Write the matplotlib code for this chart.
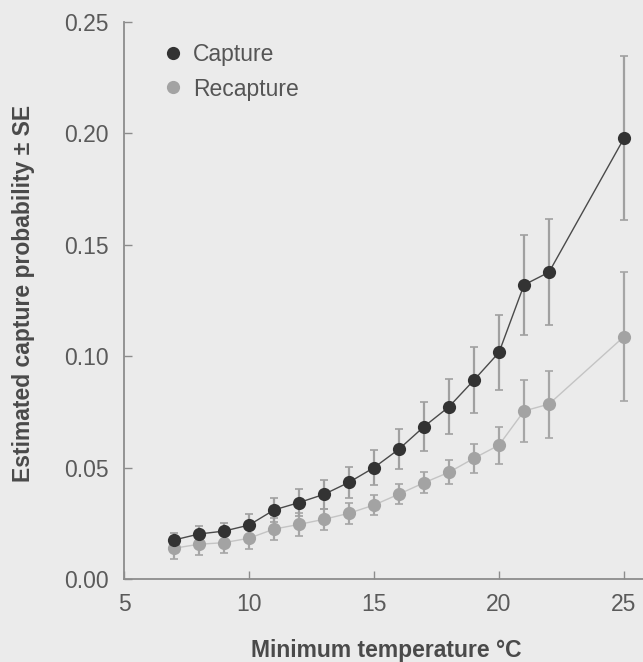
import matplotlib.pyplot as plt

temps = [7, 8, 9, 10, 11, 12, 13, 14, 15, 16, 17, 18, 19, 20, 21, 22, 25]

capture = [0.0175, 0.0202, 0.0215, 0.0242, 0.031, 0.0343, 0.038, 0.0434, 0.050,
           0.0583, 0.0684, 0.0773, 0.0893, 0.1017, 0.132, 0.1377, 0.1978]
capture_se = [0.003, 0.0038, 0.0038, 0.0048, 0.0052, 0.006, 0.0064, 0.007, 0.008,
              0.009, 0.011, 0.0124, 0.0148, 0.0169, 0.0225, 0.0237, 0.0368]

recapture = [0.0138, 0.0156, 0.0163, 0.0183, 0.0224, 0.0245, 0.0268, 0.0295, 0.0332,
             0.0381, 0.0432, 0.0479, 0.0542, 0.0601, 0.0754, 0.0785, 0.1088]
recapture_se = [0.005, 0.0048, 0.0048, 0.005, 0.005, 0.005, 0.0048, 0.0047, 0.0047,
                0.0046, 0.0048, 0.0053, 0.0066, 0.0083, 0.014, 0.015, 0.029]

bg = '#ebebeb'
plt.rcParams['font.family'] = ['Liberation Sans', 'DejaVu Sans']

fig = plt.figure(figsize=(6.43, 6.62), dpi=100, facecolor=bg)
ax = fig.add_axes([0.193, 0.1254, 0.807, 0.8414], facecolor=bg)

# error bars first, so the dots sit on top
ax.errorbar(temps, recapture, yerr=recapture_se, fmt='none', ecolor='#a6a6a6',
            elinewidth=1.6, capsize=3, capthick=1.2, zorder=1)
ax.errorbar(temps, capture, yerr=capture_se, fmt='none', ecolor='#a0a0a0',
            elinewidth=1.6, capsize=3, capthick=1.2, zorder=1)

ax.plot(temps, recapture, color='#c4c4c4', lw=1.0, zorder=2)
ax.plot(temps, capture, color='#4a4a4a', lw=1.0, zorder=2)
ax.plot(temps, recapture, 'o', color='#a3a3a3', ms=9.5, mec='none', zorder=3,
        label='Recapture')
ax.plot(temps, capture, 'o', color='#333333', ms=9.5, mec='none', zorder=4,
        label='Capture')

ax.set_xlim(5, 25.76)
ax.set_ylim(0, 0.25)
ax.set_xticks([5, 10, 15, 20, 25])
ax.set_yticks([0, 0.05, 0.10, 0.15, 0.20, 0.25])
ax.set_yticklabels(['0.00', '0.05', '0.10', '0.15', '0.20', '0.25'])

for s in ['top', 'right']:
    ax.spines[s].set_visible(False)
for s in ['left', 'bottom']:
    ax.spines[s].set_color('#8c8c8c')
    ax.spines[s].set_linewidth(1.3)

ax.tick_params(direction='in', length=6, width=1.0, color='#8c8c8c',
               labelsize=16.5, labelcolor='#5a5a5a')
ax.tick_params(axis='y', pad=11)
ax.tick_params(axis='x', pad=10)

ax.set_xlabel('Minimum temperature °C', fontsize=16.5, fontweight='bold',
              color='#4a4a4a')
ax.set_ylabel('Estimated capture probability ± SE', fontsize=16.5, fontweight='bold',
              color='#4a4a4a')
ax.xaxis.set_label_coords(0.506, -0.108)
ax.yaxis.set_label_coords(-0.171, 0.513)

handles, labels = ax.get_legend_handles_labels()
leg = ax.legend(handles[::-1], labels[::-1], loc='upper left', frameon=False,
                fontsize=16.5, handletextpad=0.37, handlelength=1.0,
                labelspacing=0.52, bbox_to_anchor=(0.033, 1.0))
for t in leg.get_texts():
    t.set_color('#555555')

fig.savefig('out.png', dpi=100, facecolor=bg)
